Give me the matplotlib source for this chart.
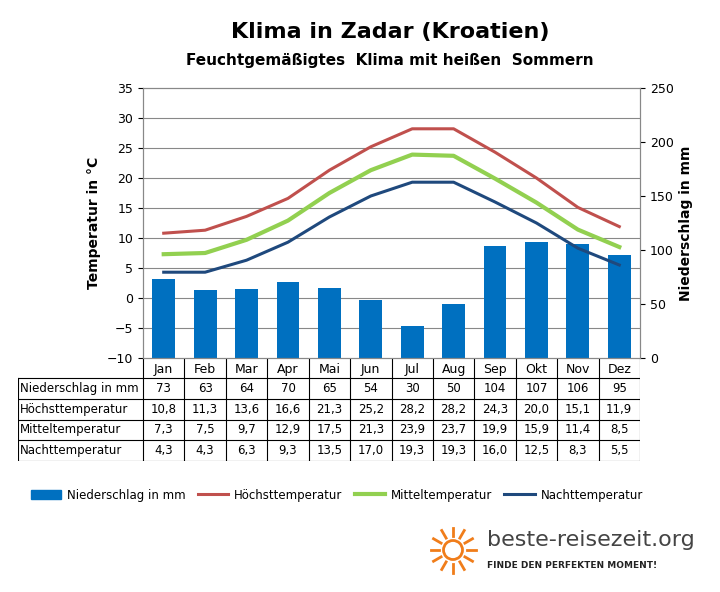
import matplotlib.pyplot as plt
import matplotlib.patches as mpatches
import numpy as np

months = ['Jan', 'Feb', 'Mar', 'Apr', 'Mai', 'Jun', 'Jul', 'Aug', 'Sep', 'Okt', 'Nov', 'Dez']
rain = [73, 63, 64, 70, 65, 54, 30, 50, 104, 107, 106, 95]
tmax = [10.8, 11.3, 13.6, 16.6, 21.3, 25.2, 28.2, 28.2, 24.3, 20.0, 15.1, 11.9]
tmean = [7.3, 7.5, 9.7, 12.9, 17.5, 21.3, 23.9, 23.7, 19.9, 15.9, 11.4, 8.5]
tmin = [4.3, 4.3, 6.3, 9.3, 13.5, 17.0, 19.3, 19.3, 16.0, 12.5, 8.3, 5.5]
row_names = ['Niederschlag in mm', 'Höchsttemperatur', 'Mitteltemperatur', 'Nachttemperatur']

W, H = 720, 592
fig = plt.figure(figsize=(7.2, 5.92), dpi=100)

def box(x0, y0, x1, y1):
    return [x0 / W, 1 - y1 / H, (x1 - x0) / W, (y1 - y0) / H]

c_bar = '#0070c0'
c_max = '#c0504d'
c_mean = '#92d050'
c_min = '#1f497d'

x = np.arange(12)
ax = fig.add_axes(box(143, 88, 640, 358))
ax2 = ax.twinx()
ax.set_zorder(2); ax.patch.set_visible(False)
ax2.set_ylim(0, 250)
ax2.set_yticks(range(0, 251, 50))
for t in range(-5, 35, 5):
    ax2.axhline((t + 10) / 45 * 250, color='#888888', lw=0.8, zorder=0)
ax2.bar(x, rain, width=0.55, color=c_bar, zorder=2)
ax.plot(x, tmax, color=c_max, lw=2.2)
ax.plot(x, tmean, color=c_mean, lw=3)
ax.plot(x, tmin, color=c_min, lw=2.2)
ax.set_ylim(-10, 35)
ax.set_yticks(range(-10, 36, 5))
ax.set_xlim(-0.5, 11.5)
ax.set_xticks(x)
ax.set_xticklabels(months)
ax.tick_params(axis='x', length=0, labelsize=9)
ax.tick_params(axis='y', labelsize=9)
ax2.tick_params(axis='y', labelsize=9)
for s in ['top', 'right', 'left', 'bottom']:
    ax.spines[s].set_color('#888888')
    ax2.spines[s].set_color('#888888')
ax.set_ylabel('Temperatur in °C', fontsize=10, fontweight='bold')
ax2.set_ylabel('Niederschlag in mm', fontsize=10, fontweight='bold')

# table
tab = fig.add_axes(box(18, 358, 640, 461))
tab.set_xlim(0, 622); tab.set_ylim(103, 0)
tab.axis('off')
cw = 497 / 12
tops = [20, 41, 62, 82, 103]
for y in tops:
    tab.plot([0, 622], [y, y], color='black', lw=0.8)
tab.plot([0, 0], [20, 103], color='black', lw=0.8)
for i in range(13):
    xx = 125 + i * cw
    tab.plot([xx, xx], [0, 103], color='black', lw=0.8)
rows = [rain, tmax, tmean, tmin]
for r, (name, vals) in enumerate(zip(row_names, rows)):
    yc = (tops[r] + tops[r + 1]) / 2
    tab.text(2, yc, name, va='center', ha='left', fontsize=8.5)
    for i, v in enumerate(vals):
        s = str(v) if r == 0 else ('%.1f' % v).replace('.', ',')
        tab.text(125 + (i + 0.5) * cw, yc, s, va='center', ha='center', fontsize=8.5)

fig.text(390 / W, 1 - 32 / H, 'Klima in Zadar (Kroatien)', ha='center', va='center',
         fontsize=16, fontweight='bold')
fig.text(390 / W, 1 - 60 / H, 'Feuchtgemäßigtes  Klima mit heißen  Sommern', ha='center',
         va='center', fontsize=11, fontweight='bold')

handles = [mpatches.Patch(color=c_bar, label='Niederschlag in mm'),
           plt.Line2D([], [], color=c_max, lw=2.2, label='Höchsttemperatur'),
           plt.Line2D([], [], color=c_mean, lw=3, label='Mitteltemperatur'),
           plt.Line2D([], [], color=c_min, lw=2.2, label='Nachttemperatur')]
fig.legend(handles=handles, loc='center', bbox_to_anchor=(337 / W, 1 - 495 / H), ncol=4,
           frameon=False, fontsize=8.5, handlelength=2.6, handletextpad=0.5,
           columnspacing=1.0)

# logo
lg = fig.add_axes(box(428, 525, 478, 575))
lg.set_xlim(-1, 1); lg.set_ylim(-1, 1); lg.axis('off'); lg.set_aspect('equal')
lg.add_patch(mpatches.Circle((0, 0), 0.38, fill=False, ec='#f07d1a', lw=2))
for a in np.linspace(0, 2 * np.pi, 12, endpoint=False):
    lg.plot([0.55 * np.cos(a), 0.9 * np.cos(a)], [0.55 * np.sin(a), 0.9 * np.sin(a)],
            color='#f07d1a', lw=2)
fig.text(487 / W, 1 - 540 / H, 'beste-reisezeit.org', fontsize=16, color='#444444',
         va='center', ha='left')
fig.text(487 / W, 1 - 566 / H, 'FINDE DEN PERFEKTEN MOMENT!', fontsize=6.5, fontweight='bold',
         color='#222222', va='center', ha='left')

fig.savefig('out.png', dpi=100)
